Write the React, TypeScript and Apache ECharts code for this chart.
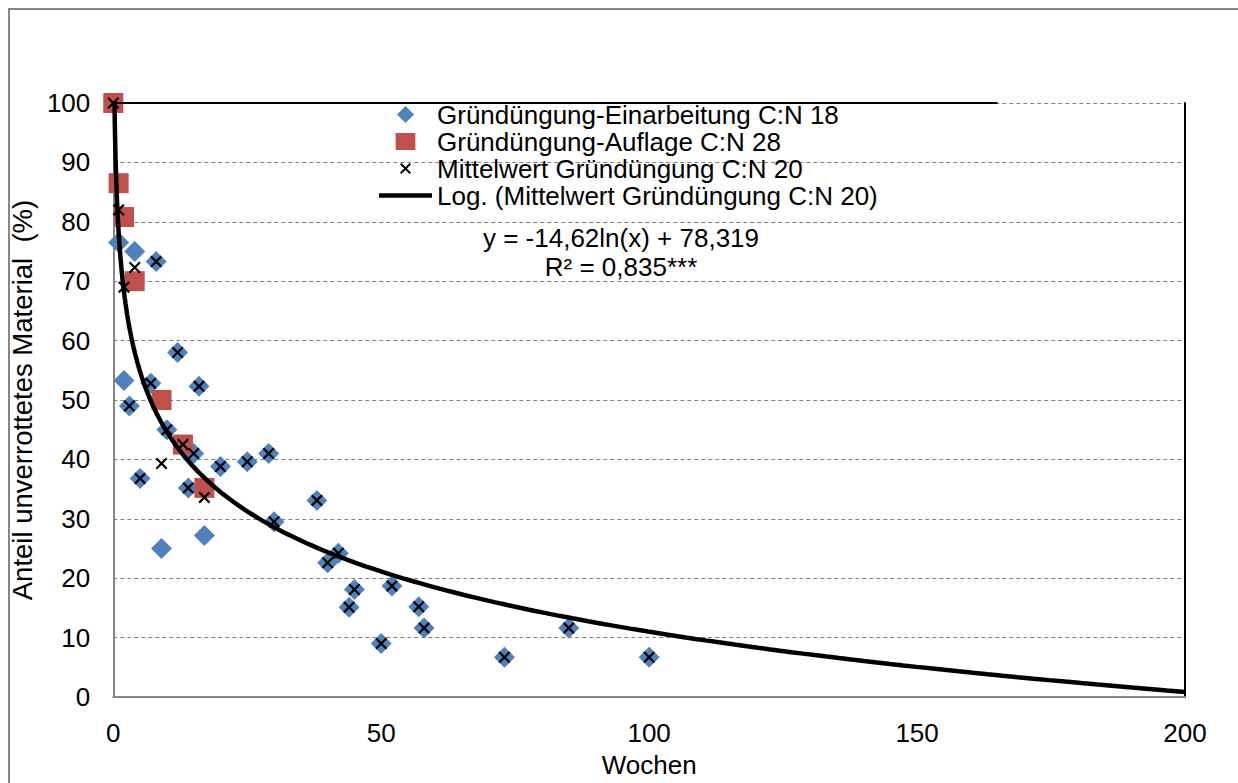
import React, { useEffect, useRef } from "react";
import * as echarts from "echarts";

// ---- Data ----
const einarbeitungX = [1, 2, 3, 4, 5, 7, 8, 9, 10, 12, 14, 15, 16, 17, 20, 25, 29, 30, 38, 40, 42, 44, 45, 50, 52, 57, 58, 73, 85, 100];
const einarbeitungY = [76.5, 53.3, 49, 75, 36.8, 52.8, 73.3, 25, 45, 58, 35.2, 41, 52.3, 27.2, 38.8, 39.6, 41, 29.5, 33.1, 22.6, 24.2, 15.1, 18.1, 9, 18.7, 15.2, 11.6, 6.7, 11.6, 6.7];

const auflageX = [0, 1, 2, 4, 9, 13, 17];
const auflageY = [100, 86.5, 80.8, 70, 50, 42.5, 35.2];

const mittelX = [0, 1, 2, 3, 4, 5, 7, 8, 9, 10, 12, 13, 14, 15, 16, 17, 20, 25, 29, 30, 38, 40, 42, 44, 45, 50, 52, 57, 58, 73, 85, 100];
const mittelY = [100, 82, 69, 49, 72.3, 36.8, 52.8, 73.3, 39.3, 45, 58, 42.5, 35.2, 41, 52.3, 33.6, 38.8, 39.6, 41, 29.5, 33.1, 22.6, 24.2, 15.1, 18.1, 9, 18.7, 15.2, 11.6, 6.7, 11.6, 6.7];

// Logarithmic trend line as printed in the chart: y = -14,62 ln(x) + 78,319
const trendA = -14.62;
const trendB = 78.319;
const trendXMax = 200;

const seriesNames = [
  "Gründüngung-Einarbeitung C:N 18",
  "Gründüngung-Auflage C:N 28",
  "Mittelwert Gründüngung C:N 20",
  "Log. (Mittelwert Gründüngung C:N 20)",
];
const equationText = "y = -14,62ln(x) + 78,319";
const r2Text = "R² = 0,835***";
const xTitle = "Wochen";
const yTitle = "Anteil unverrottetes Material  (%)";

const FONT = "'Liberation Sans', Arial, sans-serif";
const X_BODY =
  "M0,1.3 L1.3,0 L5,3.7 L8.7,0 L10,1.3 L6.3,5 L10,8.7 L8.7,10 L5,6.3 L1.3,10 L0,8.7 L3.7,5 Z";
const X_PATH = "path://" + X_BODY;
const X_LEGEND_PATH = "path://M-2.8,-2.8 L-2.8,-2.8 Z M12.8,12.8 L12.8,12.8 Z " + X_BODY;
const DIAMOND_PATH = "path://M5,0 L10,5 L5,10 L0,5 Z";
const SQUARE_PATH = "path://M0,0 L11,0 L11,9.5 L0,9.5 Z";
const LINE_PATH = "path://M0,0 L53,0 L53,4.5 L0,4.5 Z";

function zip(xs: number[], ys: number[]) {
  return xs.map((x, i) => [x, ys[i]]);
}

function trendPoints() {
  const start = Math.exp((100 - trendB) / trendA);
  const pts: number[][] = [];
  const n = 400;
  const l0 = Math.log(start);
  const l1 = Math.log(trendXMax);
  for (let i = 0; i <= n; i++) {
    const x = Math.exp(l0 + ((l1 - l0) * i) / n);
    pts.push([x, trendA * Math.log(x) + trendB]);
  }
  return pts;
}

export default function App() {
  const ref = useRef<HTMLDivElement>(null);
  useEffect(() => {
    if (!ref.current) return;
    const chart = echarts.init(ref.current, undefined, { renderer: "svg" });
    const gridColor = "#808080";
    chart.setOption({
      animation: false,
      backgroundColor: "#ffffff",
      textStyle: { fontFamily: FONT },
      grid: { left: 111, top: 103, right: 53, bottom: 79, containLabel: false },
      legend: {
        orient: "vertical",
        left: 379,
        top: 101,
        padding: 0,
        itemGap: 0,
        itemWidth: 53,
        itemHeight: 17,
        symbolKeepAspect: true,
        textStyle: { fontSize: 26, fontFamily: FONT, color: "#000", lineHeight: 27 },
        data: [
          { name: seriesNames[0], icon: DIAMOND_PATH },
          { name: seriesNames[1], icon: SQUARE_PATH },
          { name: seriesNames[2], icon: X_LEGEND_PATH },
          { name: seriesNames[3], icon: LINE_PATH },
        ],
      },
      xAxis: {
        type: "value",
        min: 0,
        max: 200,
        interval: 50,
        name: xTitle,
        nameLocation: "middle",
        nameGap: 55,
        nameTextStyle: { fontSize: 26, fontFamily: FONT, color: "#000" },
        axisLine: { show: true, onZero: false, lineStyle: { color: "#868686", width: 2 } },
        axisTick: { show: false },
        axisLabel: { fontSize: 26, fontFamily: FONT, color: "#000", margin: 23 },
        splitLine: { show: false },
      },
      yAxis: [
        {
          type: "value",
          min: 0,
          max: 100,
          interval: 10,
          name: yTitle,
          nameLocation: "middle",
          nameGap: 68,
          nameTextStyle: { fontSize: 27.5, fontFamily: FONT, color: "#000" },
          axisLine: { show: true, onZero: false, lineStyle: { color: "#868686", width: 2 } },
          axisTick: { show: false },
          axisLabel: { fontSize: 26, fontFamily: FONT, color: "#000", margin: 23 },
          splitLine: { show: true, lineStyle: { color: gridColor, width: 1, type: [4, 3] } },
        },
        {
          type: "value",
          min: 0,
          max: 100,
          interval: 10,
          position: "right",
          axisLine: { show: true, onZero: false, lineStyle: { color: "#000", width: 2 } },
          axisTick: { show: false },
          axisLabel: { show: false },
          splitLine: { show: false },
        },
      ],
      graphic: [
        {
          type: "rect",
          shape: { x: 9, y: 9, width: 1400, height: 1000 },
          style: { fill: "none", stroke: "#868686", lineWidth: 2 },
          silent: true,
          z: -10,
        },
        {
          type: "text",
          x: 621,
          y: 238,
          style: { text: equationText, font: `26px ${FONT}`, fill: "#000", align: "center", verticalAlign: "middle" },
          z: 10,
        },
        {
          type: "text",
          x: 621,
          y: 267,
          style: { text: r2Text, font: `26px ${FONT}`, fill: "#000", align: "center", verticalAlign: "middle" },
          z: 10,
        },
      ],
      series: [
        {
          name: seriesNames[0],
          type: "scatter",
          symbol: "diamond",
          symbolSize: 21,
          itemStyle: { color: "#4F81BD", opacity: 1 },
          data: zip(einarbeitungX, einarbeitungY),
          z: 2,
        },
        {
          name: seriesNames[1],
          type: "scatter",
          symbol: "rect",
          symbolSize: 20,
          itemStyle: { color: "#C0504D", opacity: 1 },
          data: zip(auflageX, auflageY),
          z: 3,
        },
        {
          name: seriesNames[2],
          type: "scatter",
          symbol: X_PATH,
          symbolSize: 12,
          itemStyle: { color: "#000", opacity: 1 },
          data: zip(mittelX, mittelY),
          z: 4,
        },
        {
          name: seriesNames[3],
          type: "line",
          symbol: "none",
          showSymbol: false,
          smooth: false,
          lineStyle: { color: "#000", width: 4.5 },
          itemStyle: { color: "#000" },
          data: trendPoints(),
          z: 5,
          markLine: {
            silent: true,
            symbol: ["none", "none"],
            label: { show: false },
            lineStyle: { color: "#000", width: 2, type: "solid" },
            data: [[{ coord: [0, 100] }, { coord: [165, 100] }]],
          },
        },
      ],
    });
    return () => chart.dispose();
  }, []);
  return (
    <div
      ref={ref}
      style={{ position: "fixed", left: 0, top: 0, width: 1238, height: 783 }}
    />
  );
}
